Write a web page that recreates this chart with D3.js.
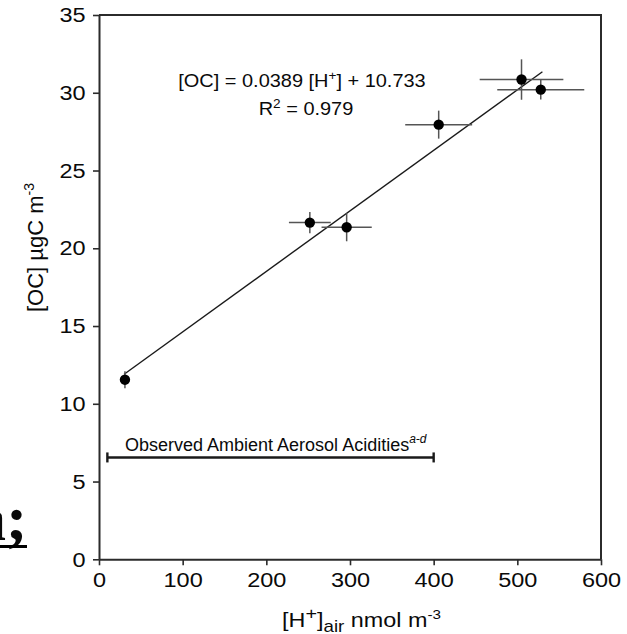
<!DOCTYPE html>
<html>
<head>
<meta charset="utf-8">
<script src="https://cdn.jsdelivr.net/npm/d3@7"></script>
<style>
  body { margin: 0; background: #fff; }
  text { font-family: "Liberation Sans", Arial, sans-serif; fill: #0a0a0a; }
</style>
</head>
<body>
<svg id="chart" width="627" height="634"></svg>
<script>
// measured points: [H+]air (nmol m-3) vs [OC] (ugC m-3), with error bars
const hPlus  = [31, 252, 296, 406, 505, 528];
const ocVals = [11.55, 21.65, 21.35, 27.95, 30.85, 30.2];
const hErr   = [2, 25, 30, 40, 50, 52];
const ocErr  = [0.55, 0.68, 0.9, 0.9, 1.3, 0.64];

// linear fit
const slope = 0.0389, intercept = 10.733, r2 = 0.979;
const fitRange = [30, 530];

// observed ambient acidity range bar
const observedRange = [10, 400];
const observedLevel = 6.55;

const xTicks = [0, 100, 200, 300, 400, 500, 600];
const yTicks = [0, 5, 10, 15, 20, 25, 30, 35];

var svg = d3.select("#chart");

var x = d3.scaleLinear().domain([0, 600]).range([99, 601]);
var y = d3.scaleLinear().domain([0, 35]).range([559.3, 15]);

var axisColor = "#2b2b2b";

// frame (top + right)
svg.append("path")
  .attr("d", "M" + x(0) + "," + y(35) + "H" + x(600) + "V" + y(0))
  .attr("fill", "none")
  .attr("stroke", axisColor)
  .attr("stroke-width", 2);

// axes
var xAxis = svg.append("g")
  .attr("transform", "translate(0," + y(0) + ")")
  .call(d3.axisBottom(x).tickValues(xTicks).tickSize(6).tickPadding(6.5).tickSizeOuter(0));
var yAxis = svg.append("g")
  .attr("transform", "translate(" + x(0) + ",0)")
  .call(d3.axisLeft(y).tickValues(yTicks).tickSize(6).tickPadding(6).tickSizeOuter(0));

[xAxis, yAxis].forEach(function (ax) {
  ax.select(".domain").attr("stroke", axisColor).attr("stroke-width", 2);
  ax.selectAll(".tick line").attr("stroke", axisColor).attr("stroke-width", 1.6);
  ax.selectAll(".tick text")
    .style("font-family", "'Liberation Sans', Arial, sans-serif")
    .style("font-size", "21px")
    .attr("fill", "#0a0a0a");
});
// the original glyphs are a bit wider than Liberation Sans
xAxis.selectAll(".tick text").attr("transform", "scale(1.12,1)");
yAxis.selectAll(".tick text").attr("transform", "scale(1.12,1)");

// regression line
svg.append("line")
  .attr("x1", x(fitRange[0])).attr("y1", y(slope * fitRange[0] + intercept))
  .attr("x2", x(fitRange[1])).attr("y2", y(slope * fitRange[1] + intercept))
  .attr("stroke", "#1a1a1a")
  .attr("stroke-width", 1.4);

var pts = hPlus.map(function (d, i) {
  return { h: d, oc: ocVals[i], he: hErr[i], oe: ocErr[i] };
});

// error bars
var eb = svg.append("g").attr("stroke", "#555").attr("stroke-width", 1.5);
eb.selectAll(".hbar").data(pts).enter().append("line")
  .attr("x1", d => x(d.h - d.he)).attr("x2", d => x(d.h + d.he))
  .attr("y1", d => y(d.oc)).attr("y2", d => y(d.oc));
eb.selectAll(".vbar").data(pts).enter().append("line")
  .attr("x1", d => x(d.h)).attr("x2", d => x(d.h))
  .attr("y1", d => y(d.oc - d.oe)).attr("y2", d => y(d.oc + d.oe));

// points
svg.selectAll(".pt").data(pts).enter().append("circle")
  .attr("cx", d => x(d.h))
  .attr("cy", d => y(d.oc))
  .attr("r", 5.2)
  .attr("fill", "#000");

// equation
var eq = svg.append("text")
  .attr("transform", "translate(302,87.3) scale(1.05,1)")
  .attr("text-anchor", "middle")
  .style("font-size", "19px");
eq.append("tspan").text("[OC] = " + slope + " [H");
eq.append("tspan").attr("dy", -7).style("font-size", "13px").text("+");
eq.append("tspan").attr("dy", 7).text("] + " + intercept);

var rr = svg.append("text")
  .attr("transform", "translate(306,115) scale(1.05,1)")
  .attr("text-anchor", "middle")
  .style("font-size", "19px");
rr.append("tspan").text("R");
rr.append("tspan").attr("dy", -7).style("font-size", "13px").text("2");
rr.append("tspan").attr("dy", 7).text(" = " + r2);

// observed ambient range bar
var obsY = y(observedLevel);
svg.append("line")
  .attr("x1", x(observedRange[0])).attr("x2", x(observedRange[1]))
  .attr("y1", obsY).attr("y2", obsY)
  .attr("stroke", "#1a1a1a").attr("stroke-width", 2.4);
observedRange.forEach(function (v) {
  svg.append("line")
    .attr("x1", x(v)).attr("x2", x(v))
    .attr("y1", obsY - 5).attr("y2", obsY + 5)
    .attr("stroke", "#1a1a1a").attr("stroke-width", 2.4);
});
var obsText = svg.append("text")
  .attr("x", 125).attr("y", obsY - 6.7)
  .style("font-size", "18px");
obsText.append("tspan").text("Observed Ambient Aerosol Acidities");
obsText.append("tspan").attr("dy", -8).style("font-size", "12px").style("font-style", "italic").text("a-d");

// y axis title
var yt = svg.append("text")
  .attr("transform", "translate(43,247.5) rotate(-90)")
  .attr("text-anchor", "middle")
  .style("font-size", "22px");
yt.append("tspan").text("[OC] \u00b5gC m");
yt.append("tspan").attr("dy", -9).style("font-size", "14px").text("-3");

// x axis title
var xt = svg.append("text")
  .attr("transform", "translate(282,626.7) scale(1.17,1)")
  .style("font-size", "20px");
xt.append("tspan").text("[H");
xt.append("tspan").attr("dy", -8).style("font-size", "17px").text("+");
xt.append("tspan").attr("dy", 8).text("]");
xt.append("tspan").attr("dy", 5).style("font-size", "16px").text("air");
xt.append("tspan").attr("dy", -5).text(" nmol m");
xt.append("tspan").attr("dy", -8).style("font-size", "13px").text("-3");

// cropped heading fragment at the left edge
svg.append("text")
  .attr("x", -26).attr("y", 540)
  .style("font-family", "'Liberation Serif', 'Times New Roman', serif")
  .style("font-weight", "bold")
  .style("font-size", "64px")
  .attr("fill", "#000")
  .text("a;");
svg.append("line")
  .attr("x1", 0).attr("x2", 27)
  .attr("y1", 546.5).attr("y2", 546.5)
  .attr("stroke", "#000").attr("stroke-width", 3);
</script>
</body>
</html>
